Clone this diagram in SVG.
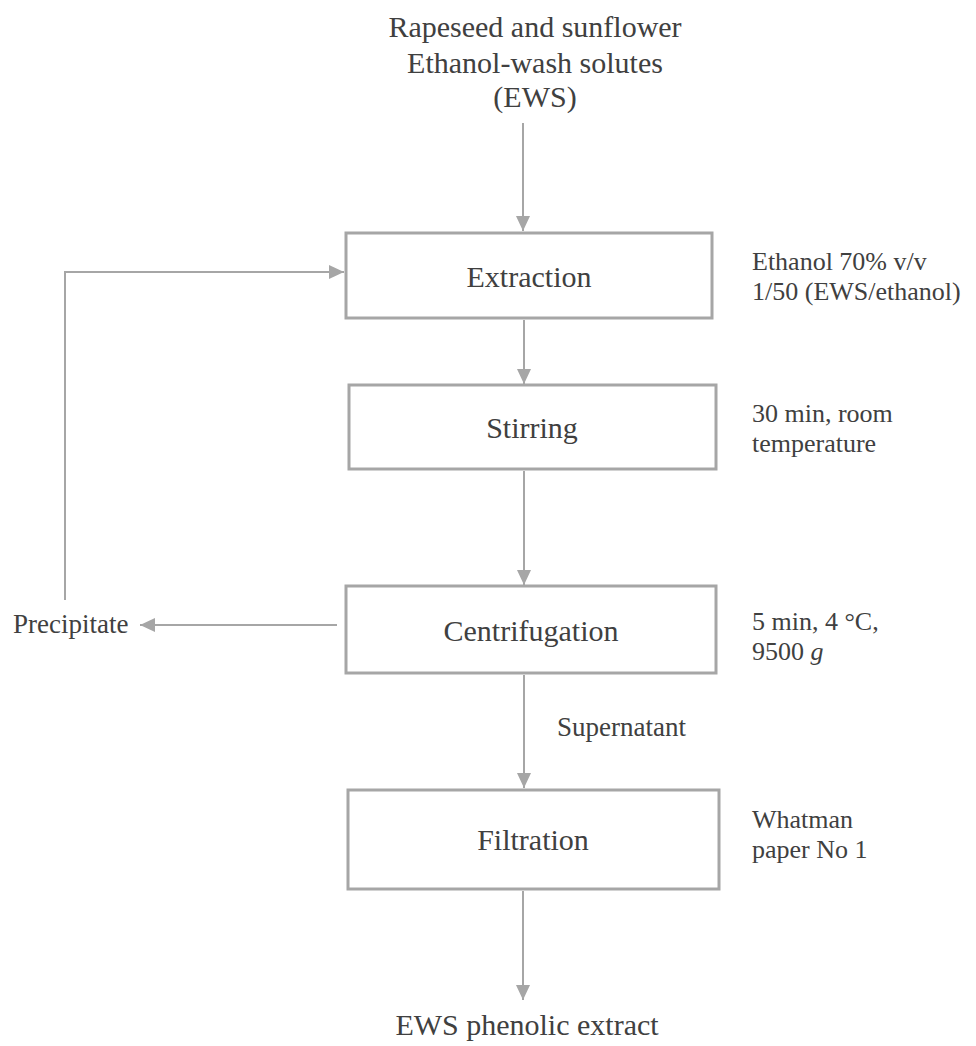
<svg xmlns="http://www.w3.org/2000/svg" width="976" height="1046" viewBox="0 0 976 1046">
<defs>
<style>
text{font-family:'Liberation Serif','Times New Roman',serif;fill:#404040}
.lab{font-size:30px;text-anchor:middle}
.ann{font-size:26px}
.side{font-size:27px}
.box{fill:#fff;stroke:#a6a6a6;stroke-width:3}
.con{fill:none;stroke:#a6a6a6;stroke-width:2}
</style>
<marker id="ah" markerUnits="userSpaceOnUse" markerWidth="16" markerHeight="16" refX="15" refY="7" orient="auto">
<path d="M0,0 L15,7 L0,14 Z" fill="#a6a6a6"/>
</marker>
</defs>
<rect width="976" height="1046" fill="#fff"/>
<g id="connectors">
<line class="con" x1="523" y1="123" x2="523" y2="231" marker-end="url(#ah)"/>
<line class="con" x1="524" y1="320" x2="524" y2="384" marker-end="url(#ah)"/>
<line class="con" x1="524" y1="471" x2="524" y2="585" marker-end="url(#ah)"/>
<line class="con" x1="337" y1="625" x2="140" y2="625" marker-end="url(#ah)"/>
<polyline class="con" points="65,600 65,272 344,272" marker-end="url(#ah)"/>
<line class="con" x1="524" y1="675" x2="524" y2="788" marker-end="url(#ah)"/>
<line class="con" x1="523" y1="891" x2="523" y2="1000" marker-end="url(#ah)"/>
</g>
<g id="input">
<text class="lab" x="535" y="37">Rapeseed and sunflower</text>
<text class="lab" x="535" y="73">Ethanol-wash solutes</text>
<text class="lab" x="535" y="107">(EWS)</text>
</g>
<g id="extraction">
<rect class="box" x="346" y="233" width="366" height="85"/>
<text class="lab" x="529" y="287">Extraction</text>
</g>
<g id="stirring">
<rect class="box" x="349" y="385" width="367" height="84"/>
<text class="lab" x="532" y="438">Stirring</text>
</g>
<g id="centrifugation">
<rect class="box" x="346" y="586" width="370" height="87"/>
<text class="lab" x="531" y="641">Centrifugation</text>
</g>
<g id="filtration">
<rect class="box" x="348" y="790" width="371" height="99"/>
<text class="lab" x="533" y="850">Filtration</text>
</g>
<g id="output">
<text class="lab" x="527" y="1035">EWS phenolic extract</text>
</g>
<g id="precipitate">
<text class="side" x="13" y="633">Precipitate</text>
</g>
<g id="supernatant">
<text class="side" x="557" y="736">Supernatant</text>
</g>
<g id="annotations">
<text class="ann" x="752" y="270">Ethanol 70% v/v</text>
<text class="ann" x="752" y="300">1/50 (EWS/ethanol)</text>
<text class="ann" x="752" y="422">30 min, room</text>
<text class="ann" x="752" y="452">temperature</text>
<text class="ann" x="752" y="630">5 min, 4 °C,</text>
<text class="ann" x="752" y="660">9500 <tspan font-style="italic">g</tspan></text>
<text class="ann" x="752" y="828">Whatman</text>
<text class="ann" x="752" y="858">paper No 1</text>
</g>
</svg>
